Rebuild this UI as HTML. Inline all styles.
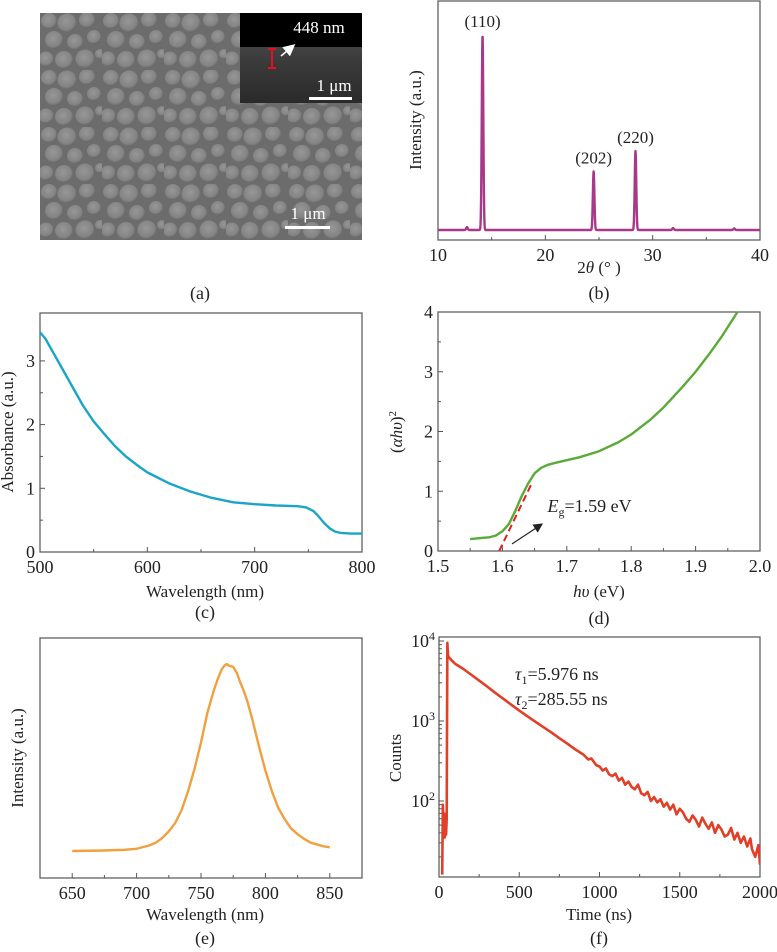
<!DOCTYPE html>
<html><head><meta charset="utf-8">
<style>
html,body{margin:0;padding:0;background:#fff;}
svg{display:block;font-family:"Liberation Serif",serif;}
text{fill:#222;}
</style></head>
<body>
<svg id="fig" width="777" height="952" viewBox="0 0 777 952" xmlns="http://www.w3.org/2000/svg">
<defs>
  <radialGradient id="grain" cx="45%" cy="40%" r="60%">
    <stop offset="0" stop-color="#979797"/>
    <stop offset="0.75" stop-color="#848484"/>
    <stop offset="1" stop-color="#666"/>
  </radialGradient>
  <pattern id="sem" x="40" y="13" width="62" height="57" patternUnits="userSpaceOnUse">
    <rect width="62" height="57" fill="#6c6c6c"/>
    <circle cx="9" cy="8" r="8" fill="url(#grain)"/>
    <circle cx="27" cy="10" r="9.5" fill="url(#grain)"/>
    <circle cx="47" cy="7" r="8" fill="url(#grain)"/>
    <circle cx="14" cy="27" r="9" fill="url(#grain)"/>
    <circle cx="35" cy="29" r="8" fill="url(#grain)"/>
    <circle cx="54" cy="24" r="7" fill="url(#grain)"/>
    <circle cx="6" cy="46" r="7.5" fill="url(#grain)"/>
    <circle cx="24" cy="47" r="9" fill="url(#grain)"/>
    <circle cx="45" cy="46" r="9.5" fill="url(#grain)"/>
    <circle cx="60" cy="41" r="5" fill="url(#grain)"/>
  </pattern>
  <linearGradient id="cross" x1="0" y1="0" x2="0" y2="1">
    <stop offset="0" stop-color="#5a5a5a"/>
    <stop offset="0.5" stop-color="#3c3c3c"/>
    <stop offset="1" stop-color="#2a2a2a"/>
  </linearGradient>
  <marker id="arrW" markerWidth="8" markerHeight="8" refX="6" refY="4" orient="auto"><path d="M0,0 L8,4 L0,8 Z" fill="#fff"/></marker>
  <marker id="arrK" markerWidth="8" markerHeight="8" refX="6" refY="4" orient="auto"><path d="M0,0 L8,4 L0,8 Z" fill="#222"/></marker>
</defs>

<!-- Panel a: SEM image -->
<g>
  <rect x="40" y="13" width="322" height="227" fill="url(#sem)"/>
  <g>
    <rect x="240" y="13" width="122" height="90" fill="url(#cross)"/>
    <rect x="240" y="13" width="122" height="34" fill="#000"/>
    <line x1="272" y1="49" x2="272" y2="68" stroke="#e01020" stroke-width="2"/>
    <line x1="268" y1="49" x2="276" y2="49" stroke="#e01020" stroke-width="2"/>
    <line x1="268" y1="68" x2="276" y2="68" stroke="#e01020" stroke-width="2"/>
    <line x1="281" y1="56" x2="293" y2="46" stroke="#fff" stroke-width="1.5" marker-end="url(#arrW)"/>
    <text x="319" y="33" font-size="17" text-anchor="middle" style="fill:#fff">448 nm</text>
    <text x="334" y="91" font-size="17" text-anchor="middle" style="fill:#fff">1 μm</text>
    <rect x="309" y="97" width="43" height="3" fill="#fff"/>
  </g>
  <text x="308" y="219" font-size="17" text-anchor="middle" style="fill:#fff">1 μm</text>
  <rect x="285" y="226" width="45" height="3" fill="#fff"/>
  <text x="200" y="299" font-size="18" text-anchor="middle">(a)</text>
</g>

<g id="pb"></g><g id="pc"></g><g id="pd"></g><g id="pe"></g><g id="pf"></g>
</svg>
<script>
// ---------- data ----------
// (b) XRD
const xrdPeakPos = [12.7, 14.15, 24.5, 28.4, 31.9, 37.6];
const xrdPeakHeight = [0.015, 1.0, 0.30, 0.405, 0.01, 0.008];
const xrdLabels = ["(110)", "(202)", "(220)"];
const xrdLabelPos = [14.15, 24.5, 28.4];
const xrdXTicks = [10, 20, 30, 40];
// (c) absorbance
const absWl = [500,505,510,520,530,540,550,560,570,580,590,600,620,640,660,680,700,720,740,748,755,760,765,770,775,780,790,800];
const absVal = [3.45,3.35,3.2,2.9,2.6,2.3,2.05,1.85,1.66,1.5,1.37,1.25,1.08,0.95,0.85,0.78,0.75,0.73,0.72,0.7,0.64,0.55,0.45,0.37,0.32,0.3,0.29,0.29];
const absXTicks = [500,600,700,800];
const absYTicks = [0,1,2,3];
// (d) Tauc
const taucE = [1.55,1.56,1.57,1.58,1.59,1.60,1.61,1.62,1.63,1.64,1.65,1.66,1.67,1.68,1.70,1.72,1.75,1.78,1.80,1.83,1.85,1.88,1.90,1.92,1.94,1.965];
const taucV = [0.2,0.21,0.22,0.23,0.26,0.33,0.45,0.67,0.92,1.13,1.3,1.39,1.44,1.47,1.52,1.57,1.67,1.82,1.95,2.2,2.4,2.75,3.0,3.28,3.58,4.0];
const taucFitX = [1.595, 1.645];
const taucFitY = [0, 1.12];
const taucXTicks = [1.5,1.6,1.7,1.8,1.9,2.0];
const taucYTicks = [0,1,2,3,4];
// (e) PL
const plWl = [650,670,690,700,710,715,720,725,730,735,740,745,750,755,760,763,766,768,770,772,775,778,780,783,786,790,795,800,805,810,815,820,825,830,835,840,845,850];
const plVal = [0,0.002,0.006,0.012,0.03,0.045,0.07,0.105,0.15,0.22,0.32,0.44,0.58,0.74,0.86,0.92,0.97,0.99,1.0,0.99,0.985,0.95,0.91,0.86,0.8,0.7,0.56,0.43,0.32,0.23,0.17,0.12,0.09,0.065,0.045,0.035,0.025,0.02];
const plXTicks = [650,700,750,800,850];
// (f) TRPL
const trT = [20,24,28,32,36,40,44,48,52,56,60,80,100,150,200,250,300,350,400,450,500,550,600,650,700,750,800,850,900,930,950,980,1000,1020,1040,1060,1080,1100,1120,1140,1160,1180,1200,1220,1240,1260,1280,1300,1320,1340,1360,1380,1400,1420,1440,1460,1480,1500,1520,1540,1560,1580,1600,1620,1640,1660,1680,1700,1720,1740,1760,1780,1800,1820,1840,1860,1880,1900,1920,1940,1950,1970,1990,2000];
const trC = [12,90,40,70,35,55,38,60,9500,6700,6300,5700,5200,4500,3800,3200,2700,2250,1900,1600,1350,1150,980,840,720,610,520,440,380,330,340,280,270,240,255,215,205,220,180,195,160,175,150,140,160,125,118,130,100,112,96,105,85,95,78,90,68,80,72,60,55,66,58,48,62,52,45,54,40,50,44,36,38,46,33,40,30,36,27,34,25,20,28,16];
const trXTicks = [0,500,1000,1500,2000];
const trYTicks = [2,3,4];

const NS="http://www.w3.org/2000/svg";
const TF=18;
function el(tag, attrs, parent, txt){
  const e=document.createElementNS(NS,tag);
  for(const k in attrs) e.setAttribute(k,attrs[k]);
  if(txt!==undefined) e.textContent=txt;
  parent.appendChild(e); return e;
}
function lin(d0,d1,r0,r1){return v=>r0+(v-d0)/(d1-d0)*(r1-r0);}
function frame(g,L,T,R,B){
  const r=el('rect',{x:L,y:T,width:R-L,height:B-T,fill:'none',stroke:'#555','stroke-width':1.2},g);
  
  
}
function xTicks(g,ticks,sx,B,fmt,minor){
  ticks.forEach(t=>{
    const x=sx(t);
    el('line',{x1:x,y1:B,x2:x,y2:B-5,stroke:'#555'},g);
    const tx=el('text',{x:x,y:B+21,'font-size':TF,'text-anchor':'middle'},g,fmt?fmt(t):t);
    
    
  });
  if(minor) for(let i=0;i<ticks.length-1;i++){const x=(sx(ticks[i])+sx(ticks[i+1]))/2; el('line',{x1:x,y1:B,x2:x,y2:B-3,stroke:'#555'},g);}
}
function yTicks(g,ticks,sy,L,fmt,minor){
  ticks.forEach(t=>{
    const y=sy(t);
    el('line',{x1:L,y1:y,x2:L+5,y2:y,stroke:'#555'},g);
    const tx=el('text',{x:L-5,y:y+6,'font-size':TF,'text-anchor':'end'},g,fmt?fmt(t):t);
    
    
  });
  if(minor) for(let i=0;i<ticks.length-1;i++){const y=(sy(ticks[i])+sy(ticks[i+1]))/2; el('line',{x1:L,y1:y,x2:L+3,y2:y,stroke:'#555'},g);}
}
function path(g,xs,ys,sx,sy,color,w,name){
  let d='';
  xs.forEach((x,i)=>{d+=(i?'L':'M')+sx(x).toFixed(2)+','+sy(ys[i]).toFixed(2);});
  const p=el('path',{d:d,fill:'none',stroke:color,'stroke-width':w,'stroke-linejoin':'round'},g);
  
  
  return p;
}
function label(g,x,y,txt,name,rot){
  const t=el('text',{x:x,y:y,'font-size':17,'text-anchor':'middle'},g);
  if(rot) t.setAttribute('transform','rotate(-90 '+x+' '+y+')');
  t.innerHTML=txt;
  
  
  return t;
}

// ---------- (b) ----------
(function(){
  const g=document.getElementById('pb');
  
  
  const L=438,R=760,T=1,B=240;
  const sx=lin(10,40,L,R), sy=lin(0,1,230,35);
  frame(g,L,T,R,B);
  xTicks(g,xrdXTicks,sx,B,null,true);
  const xs=[],ys=[];
  for(let x=10;x<=40.0001;x+=0.02){
    let v=0;
    xrdPeakPos.forEach((p,i)=>{const w=0.1; const z=(x-p)/w; v+=xrdPeakHeight[i]*Math.exp(-(z*z));});
    xs.push(x);ys.push(v);
  }
  path(g,xs,ys,sx,sy,'#a8388a',2.4,'xrd-line');
  xrdLabels.forEach((s,i)=>{
    const idx=xrdPeakPos.indexOf(xrdLabelPos[i]);
    label(g,sx(xrdLabelPos[i]),sy(xrdPeakHeight[idx])-8,s,'peak-label');
  });
  label(g,421,120,'Intensity (a.u.)','y-axis-title',true);
  label(g,599,273,'2<tspan font-style="italic">θ</tspan> (° )','x-axis-title');
  label(g,599,299,'(b)','panel-b-label').setAttribute('font-size',18);
})();

// ---------- (c) ----------
(function(){
  const g=document.getElementById('pc');
  
  
  const L=40,R=362,T=313,B=552;
  const sx=lin(500,800,L,R), sy=lin(0,1,B,488.3);
  frame(g,L,T,R,B);
  xTicks(g,absXTicks,sx,B,null,true);
  yTicks(g,absYTicks,sy,L,null,true);
  path(g,absWl,absVal,sx,sy,'#1aa5c8',2.4,'absorbance-line');
  label(g,13,432,'Absorbance (a.u.)','y-axis-title',true);
  label(g,205,597,'Wavelength (nm)','x-axis-title');
  label(g,205,618,'(c)','panel-c-label').setAttribute('font-size',18);
})();

// ---------- (d) ----------
(function(){
  const g=document.getElementById('pd');
  
  
  const L=438,R=760,T=312,B=551;
  const sx=lin(1.5,2.0,L,R), sy=lin(0,4,B,312);
  frame(g,L,T,R,B);
  xTicks(g,taucXTicks,sx,B,t=>t.toFixed(1),true);
  yTicks(g,taucYTicks,sy,L,null,true);
  path(g,taucE,taucV,sx,sy,'#5aaa3a',2.4,'tauc-line');
  const f=path(g,taucFitX,taucFitY,sx,sy,'#e02020',2,'linear-fit');
  f.setAttribute('stroke-dasharray','7,4');
  const a=el('line',{x1:sx(1.615),y1:sy(0.12),x2:sx(1.66),y2:sy(0.44),stroke:'#222','stroke-width':1.2,'marker-end':'url(#arrK)'},g);
  
  
  const t=el('text',{x:sx(1.67),y:sy(0.65),'font-size':TF},g);
  t.innerHTML='<tspan font-style="italic">E</tspan><tspan font-size="12" dy="4">g</tspan><tspan dy="-4">=1.59 eV</tspan>';
  
  
  const yl=el('text',{x:0,y:0,'font-size':17,'text-anchor':'middle',transform:'translate(402 432) rotate(-90)'},g);
  yl.innerHTML='(<tspan font-style="italic">αhυ</tspan>)<tspan font-size="11" dy="-6">2</tspan>';
  
  
  label(g,599,597,'<tspan font-style="italic">hυ</tspan> (eV)','x-axis-title');
  label(g,599,624,'(d)','panel-d-label').setAttribute('font-size',18);
})();

// ---------- (e) ----------
(function(){
  const g=document.getElementById('pe');
  
  
  const L=40,R=362,T=638,B=878;
  const sx=lin(625,875,L,R), sy=lin(0,1,851,664);
  frame(g,L,T,R,B);
  xTicks(g,plXTicks,sx,B,null,true);
  path(g,plWl,plVal,sx,sy,'#f0a040',2.4,'pl-line');
  label(g,23,758,'Intensity (a.u.)','y-axis-title',true);
  label(g,205,920,'Wavelength (nm)','x-axis-title');
  label(g,205,944,'(e)','panel-e-label').setAttribute('font-size',18);
})();

// ---------- (f) ----------
(function(){
  const g=document.getElementById('pf');
  
  
  const L=439,R=760,T=637,B=877;
  const sx=lin(0,2000,L,R);
  const sy=v=>lin(2,4,801,641)(Math.log10(v));
  frame(g,L,T,R,B);
  xTicks(g,trXTicks,sx,B,null,true);
  trYTicks.forEach(p=>{
    const y=sy(10**p);
    el('line',{x1:L,y1:y,x2:L+5,y2:y,stroke:'#555'},g);
    const t=el('text',{x:L-4,y:y+6,'font-size':TF,'text-anchor':'end'},g);
    t.innerHTML='10<tspan font-size="12" dy="-7">'+p+'</tspan>';
    
    
  });
  for(let p=1;p<4;p++) for(let m=2;m<10;m++){
    const v=m*10**p; const y=sy(v);
    if(y>T && y<B) el('line',{x1:L,y1:y,x2:L+3,y2:y,stroke:'#555'},g);
  }
  const cp=el('clipPath',{id:'fclip'},g); el('rect',{x:L,y:T,width:R-L,height:B-T},cp);
  const p=path(g,trT,trC,sx,sy,'#e04028',2.6,'decay-line');
  p.setAttribute('clip-path','url(#fclip)');
  const t1=el('text',{x:515,y:680,'font-size':TF},g);
  t1.innerHTML='<tspan font-style="italic">τ</tspan><tspan font-size="12" dy="4">1</tspan><tspan dy="-4">=5.976 ns</tspan>';
  
  
  const t2=el('text',{x:515,y:705,'font-size':TF},g);
  t2.innerHTML='<tspan font-style="italic">τ</tspan><tspan font-size="12" dy="4">2</tspan><tspan dy="-4">=285.55 ns</tspan>';
  
  
  label(g,401,758,'Counts','y-axis-title',true);
  label(g,599,920,'Time (ns)','x-axis-title');
  label(g,599,944,'(f)','panel-f-label').setAttribute('font-size',18);
})();
</script>
</body></html>
